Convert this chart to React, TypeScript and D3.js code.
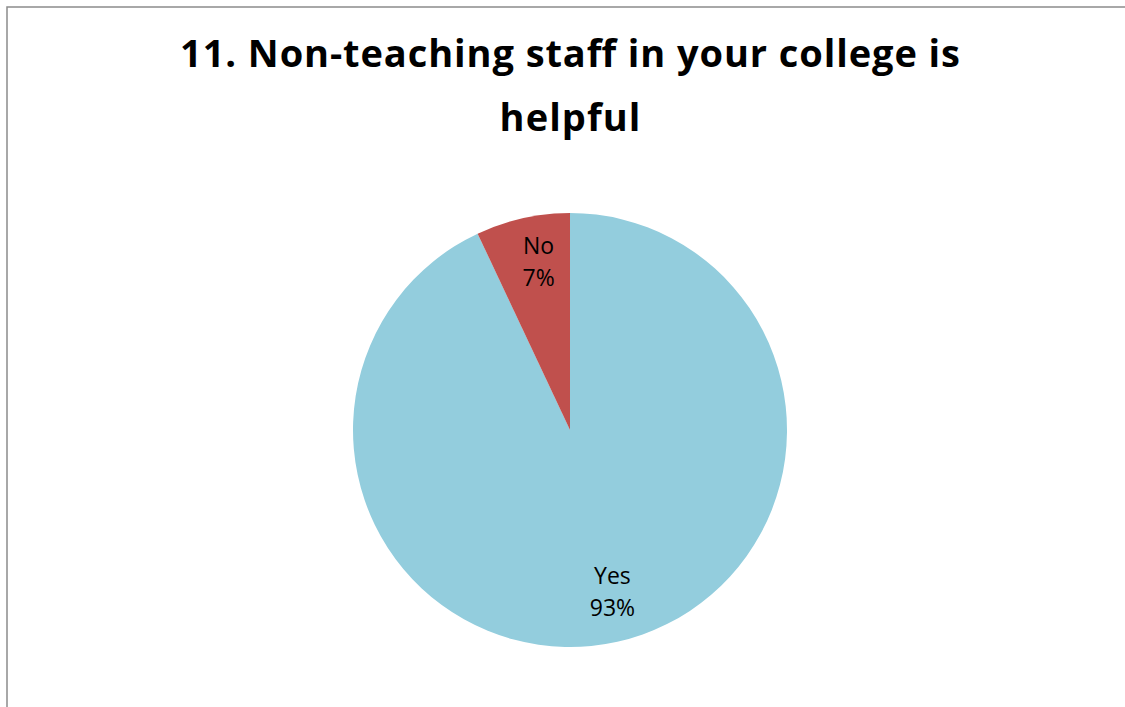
import React, { useEffect, useRef } from "react";
import * as d3 from "d3";

const categories = ["Yes", "No"];
const values = [93, 7];
const colors = ["#93CDDD", "#C0504D"];
const titleLines = ["11. Non-teaching staff in your college is", "helpful"];

export default function App() {
  const ref = useRef<SVGSVGElement>(null);

  useEffect(() => {
    const width = 1125, height = 707;
    const cx = 570, cy = 430, radius = 217;

    const svg = d3.select(ref.current);
    svg.selectAll("*").remove();
    svg.attr("width", width).attr("height", height);

    svg.append("rect")
      .attr("width", width).attr("height", height).attr("fill", "#fff");

    // chart frame (only top/left edges are inside the picture)
    svg.append("rect")
      .attr("x", 7).attr("y", 7)
      .attr("width", width + 20).attr("height", height + 20)
      .attr("fill", "none").attr("stroke", "#8c8c8c").attr("stroke-width", 1.5);

    const title = svg.append("g")
      .selectAll("text")
      .data(titleLines)
      .enter()
      .append("text")
      .attr("x", cx)
      .attr("y", (d, i) => 67 + i * 64)
      .attr("text-anchor", "middle")
      .attr("font-family", "'Open Sans', sans-serif")
      .attr("font-weight", "bold")
      .attr("font-size", 38)
      .attr("fill", "#000")
      .text(d => d);

    // fit the title to the width of the original
    const first = title.nodes()[0] as SVGTextElement;
    const ratio = 780 / first.getComputedTextLength();
    title.each(function () {
      const el = this as SVGTextElement;
      const w = el.getComputedTextLength();
      d3.select(el).attr("textLength", w * ratio).attr("lengthAdjust", "spacing");
    });

    const data = categories.map((c, i) => ({ cat: c, value: values[i], color: colors[i] }));
    const pie = d3.pie<any>().value(d => d.value).sort(null)(data);
    const arc = d3.arc<any>().innerRadius(0).outerRadius(radius);
    const labelArc = d3.arc<any>().innerRadius(radius * 0.78).outerRadius(radius * 0.78);

    const g = svg.append("g").attr("transform", `translate(${cx},${cy})`);

    g.selectAll("path")
      .data(pie)
      .enter()
      .append("path")
      .attr("d", arc)
      .attr("fill", d => d.data.color);

    const labels = g.selectAll("g.lbl")
      .data(pie)
      .enter()
      .append("g")
      .attr("class", "lbl")
      .attr("transform", d => {
        const [x, y] = labelArc.centroid(d);
        return `translate(${x + 5.5},${y})`;
      });

    labels.append("text")
      .attr("y", -11)
      .attr("text-anchor", "middle")
      .attr("font-family", "'Open Sans', sans-serif")
      .attr("font-size", 23)
      .attr("fill", "#000")
      .text(d => d.data.cat);

    labels.append("text")
      .attr("y", 21)
      .attr("text-anchor", "middle")
      .attr("font-family", "'Open Sans', sans-serif")
      .attr("font-size", 23)
      .attr("fill", "#000")
      .text(d => `${d.data.value}%`);
  }, []);

  return <svg ref={ref} style={{ position: "absolute", left: 0, top: 0 }}></svg>;
}
